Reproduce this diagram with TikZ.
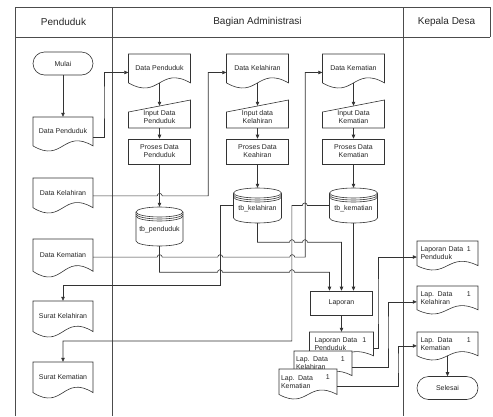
\documentclass[tikz,border=0pt]{standalone}
\usepackage{fontspec}
\setmainfont{Liberation Sans}
\usetikzlibrary{arrows.meta}
\newcommand\smallsz{\fontsize{7}{8}\selectfont}

\tikzset{
  shp/.style={draw=black!80, line width=0.6pt, fill=white},
  lbl/.style={font=\smallsz, inner sep=1pt, align=center, text=black!85},
  boxnode/.style={lbl, draw=black!80, line width=0.6pt, fill=white},
  term/.style={boxnode, rounded corners=11.5pt, minimum width=60pt, minimum height=23pt},
  conn/.style={draw=black!80, line width=0.6pt, -{Triangle[length=4pt,width=3.5pt]}},
  frame/.style={draw=black!70, line width=0.8pt},
  head/.style={font=\fontsize{10}{12}\selectfont, inner sep=1pt, text=black!85},
}

% document shape: name, L, T, W, H, text
\newcommand\docshape[6]{%
  \draw[shp] (#2,#3+0.85*#5) -- (#2,#3) -- (#2+#4,#3) -- (#2+#4,#3+0.85*#5)
    .. controls (#2+0.5*#4,#3+0.33*#5) and (#2+0.5*#4,#3+1.37*#5) .. (#2,#3+0.85*#5) -- cycle;
  \node[lbl, minimum width=#4pt, minimum height=0.85*#5pt] (#1) at (#2+0.5*#4,#3+0.425*#5) {#6};
}
% document shape with page number: name, L, T, W, H, text, number
\newcommand\docnum[7]{%
  \draw[shp] (#2,#3+0.85*#5) -- (#2,#3) -- (#2+#4,#3) -- (#2+#4,#3+0.85*#5)
    .. controls (#2+0.5*#4,#3+0.33*#5) and (#2+0.5*#4,#3+1.37*#5) .. (#2,#3+0.85*#5) -- cycle;
  \node[lbl, align=left, text width=54pt, minimum width=#4pt, minimum height=0.85*#5pt] (#1) at (#2+0.5*#4,#3+0.425*#5) {#6};
  \node[lbl, anchor=north east] (#1-n) at (#2+#4-6,#3+4.5) {#7};
}
% manual input: name, L, T(top right), W, H, text
\newcommand\inpshape[6]{%
  \draw[shp] (#2,#3+12) -- (#2+#4,#3) -- (#2+#4,#3+#5) -- (#2,#3+#5) -- cycle;
  \node[lbl, minimum width=#4pt, minimum height=#5pt-6pt] (#1) at (#2+0.5*#4,#3+3+0.5*#5) {#6};
}
% cylinder: name, L, T, W, H, text
\newcommand\cylshape[6]{%
  \draw[shp] (#2,#3+5) -- (#2,#3+#5-5) arc[start angle=180,end angle=0,x radius=0.5*#4,y radius=5] -- (#2+#4,#3+5);
  \draw[shp] (#2+0.5*#4,#3+5) ellipse[x radius=0.5*#4,y radius=5];
  \draw[shp,fill=none] (#2,#3+7) arc[start angle=180,end angle=0,x radius=0.5*#4,y radius=5];
  \draw[shp,fill=none] (#2,#3+9) arc[start angle=180,end angle=0,x radius=0.5*#4,y radius=5];
  \node[minimum width=#4pt, minimum height=#5pt, inner sep=0pt] (#1) at (#2+0.5*#4,#3+0.5*#5) {};
  \node[lbl] (#1-t) at (#2+0.5*#4,#3+0.58*#5) {#6};
}

\begin{document}
\begin{tikzpicture}[x=1pt,y=-1pt]
\useasboundingbox (0,0) rectangle (493,416);

% frame
\draw[frame] (15,416) -- (15,7) -- (490,7) -- (490,37);
\draw[frame] (15,37) -- (490,37);
\draw[frame] (112,7) -- (112,416);
\draw[frame] (403,7) -- (403,416);
\node[head] (h1) at (63.5,22) {Penduduk};
\node[head] (h2) at (257.5,22) {Bagian Administrasi};
\node[head] (h3) at (446.5,22) {Kepala Desa};

% Penduduk column
\node[term] (mulai) at (63,63.5) {Mulai};
\docshape{dpL}{33}{117}{60}{34}{Data Penduduk}
\docshape{dkL}{33}{178}{60}{35}{Data Kelahiran}
\docshape{dmL}{33}{239}{60}{38}{Data Kematian}
\docshape{skL}{33}{301}{60}{36}{Surat Kelahiran}
\docshape{smL}{33}{362}{60}{36}{Surat Kematian}

% Administrasi column
\docshape{dpA}{128.5}{54}{62}{34}{Data Penduduk}
\docshape{dkA}{226.5}{54}{62}{34}{Data Kelahiran}
\docshape{dmA}{322.5}{54}{62}{34}{Data Kematian}
\inpshape{inpP}{128.5}{100}{62}{28}{Input Data\\Penduduk}
\inpshape{inpK}{226.5}{100}{62}{28}{Input data\\Kelahiran}
\inpshape{inpM}{322.5}{100}{62}{28}{Input Data\\Kematian}
\node[boxnode, minimum width=62pt, minimum height=25pt] (prP) at (159.5,151.5) {Proses Data\\Penduduk};
\node[boxnode, minimum width=62pt, minimum height=25pt] (prK) at (257.5,151.5) {Proses Data\\Keahiran};
\node[boxnode, minimum width=62pt, minimum height=25pt] (prM) at (353.5,151.5) {Proses Data\\Kematian};
\cylshape{tbp}{136}{207}{47}{39}{tb\_penduduk}
\cylshape{tbk}{233.5}{188}{48}{35}{tb\_kelahiran}
\cylshape{tbm}{329.5}{188}{48}{35}{tb\_kematian}
\node[boxnode, minimum width=62pt, minimum height=24pt] (lap) at (341.5,303) {Laporan};
\docnum{s1}{309.5}{332}{64}{28}{Laporan Data\\Penduduk}{1}
\docnum{s2}{294}{351}{58}{29}{Lap. Data\\Kelahiran}{1}
\docnum{s3}{279}{369}{58}{30}{Lap. Data\\Kematian}{1}

% Kepala Desa column
\docnum{kpA}{417}{241}{61}{29}{Laporan Data\\Penduduk}{1}
\docnum{kkA}{417}{286}{61}{28}{Lap. Data\\Kelahiran}{1}
\docnum{kmA}{417}{332}{61}{28}{Lap. Data\\Kematian}{1}
\node[term, minimum width=61pt] (sel) at (447.5,388) {Selesai};

% connectors
\draw[conn] (mulai.south) -- (dpL.north);
\draw[conn] ([yshift=-5.5pt]dpL.east) -| (104,100) |- ([yshift=-4pt]dpA.west);
\draw[conn] (dpA.south) -- (inpP.north);
\draw[conn] (inpP.south) -- (prP.north);
\draw[conn] (prP.south) -- (tbp.north);
\draw[conn] (dkA.south) -- (inpK.north);
\draw[conn] (inpK.south) -- (prK.north);
\draw[conn] (prK.south) -- (tbk.north);
\draw[conn] (dmA.south) -- (inpM.north);
\draw[conn] (inpM.south) -- (prM.north);
\draw[conn] (prM.south) -- (tbm.north);

\draw[conn] ([yshift=-3pt]dkL.east) -- ++(64,0) arc[start angle=180,end angle=360,radius=2.5]
  -- ++(46,0) |- ([yshift=-4pt]dkA.west);
\draw[conn] ([yshift=-2pt]dmL.east) -- ++(64,0) arc[start angle=180,end angle=360,radius=2.5]
  -- ++(55.5,0) arc[start angle=180,end angle=360,radius=2.5]
  -- ++(67,0) arc[start angle=180,end angle=360,radius=2.5]
  -- ++(10.5,0) |- ([yshift=-4pt]dmA.west);

\draw[conn] (tbp.south) -- ++(0,26) -- ++(58,0) arc[start angle=180,end angle=360,radius=2.5]
  -- ++(67,0) arc[start angle=180,end angle=360,radius=2.5]
  -| ([xshift=-12pt]lap.north);
\draw[conn] (tbk.south) -- ++(0,19) -- ++(32,0) arc[start angle=180,end angle=360,radius=2.5]
  -- ++(8,0) arc[start angle=180,end angle=360,radius=2.5]
  -| (lap.north);
\draw[conn] (tbm.south) -- ([xshift=12pt]lap.north);

\draw[conn] (tbk.west) -- ++(-13.5,0) -- ++(0,79.5) -| (skL.north);
\draw[conn] (tbm.west) -- ++(-22,0) arc[start angle=0,end angle=-180,radius=2.5]
  -- ++(-10.5,0) -- ++(0,135.5) -| (smL.north);

\draw[conn] (lap.south) -- (s1.north);
\draw[conn] ([yshift=-4pt]s1.east) -| (378,300) |- ([yshift=-3.7pt]kpA.west);
\draw[conn] ([yshift=-3.7pt]s2.east) -| (388,330) |- ([yshift=-4pt]kkA.west);
\draw[conn] ([yshift=-4.25pt]s3.east) -| (398,360) |- ([yshift=-2pt]kmA.west);
\draw[conn] (kmA.south) -- (sel.north);
\end{tikzpicture}
\end{document}
